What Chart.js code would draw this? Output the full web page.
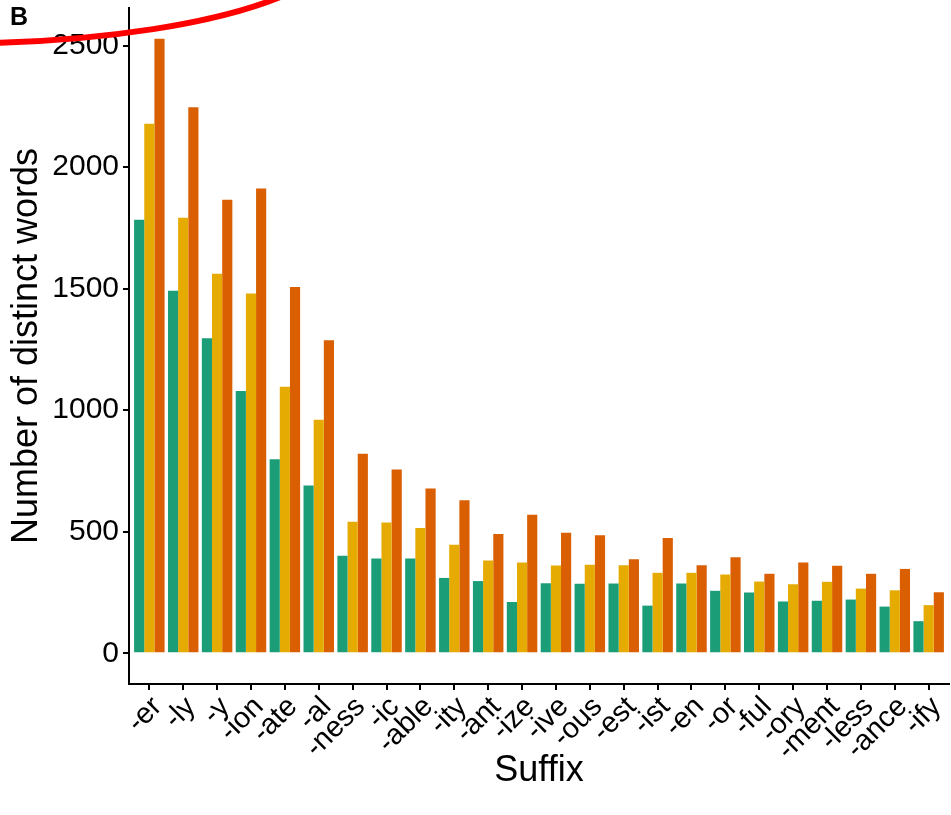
<!DOCTYPE html>
<html>
<head>
<meta charset="utf-8">
<script src="https://cdn.jsdelivr.net/npm/chart.js@4/dist/chart.umd.min.js"></script>
<style>
  html, body { margin: 0; padding: 0; background: #fff; }
  #wrap { position: relative; width: 951px; height: 815px; }
  #panel-tag {
    position: absolute; left: 10px; top: 2px;
    font: bold 25px "Liberation Sans", Arial, sans-serif; color: #000;
  }
</style>
</head>
<body>
<div id="wrap">
  <canvas id="chart" width="951" height="815"></canvas>
  <div id="panel-tag">B</div>
</div>
<script>
// Suffixes on the x axis, in plotted order
const suffixes = ['-er', '-ly', '-y', '-ion', '-ate', '-al', '-ness', '-ic', '-able', '-ity', '-ant', '-ize',
                  '-ive', '-ous', '-est', '-ist', '-en', '-or', '-ful', '-ory', '-ment', '-less', '-ance', '-ify'];

// Number of distinct words per suffix, one array per group
const groupA = [1783, 1491, 1296, 1079, 798, 690, 401, 390, 390, 310, 297, 211,
                288, 286, 287, 196, 287, 257, 250, 213, 216, 221, 192, 132];
const groupB = [2178, 1792, 1561, 1480, 1096, 961, 541, 538, 515, 446, 382, 373,
                361, 364, 362, 331, 331, 324, 295, 284, 294, 266, 259, 198];
const groupC = [2528, 2246, 1866, 1912, 1507, 1288, 821, 756, 678, 629, 491, 570,
                496, 486, 387, 474, 362, 395, 327, 373, 360, 327, 347, 251];

// Y axis tick values
const yTicks = [0, 500, 1000, 1500, 2000, 2500];

const FONT = '"Liberation Sans", Arial, Helvetica, sans-serif';
const toPoints = vals => vals.map((v, i) => ({ x: i, y: v }));

// 5% expansion around the data range on the value axis
const yMaxData = Math.max(...groupA, ...groupB, ...groupC);
const yPad = yMaxData * 0.05;

// Red hand-drawn stroke across the top-left corner
const markStroke = {
  id: 'markStroke',
  afterDraw(chart) {
    const ctx = chart.ctx;
    ctx.save();
    ctx.strokeStyle = '#ff0000';
    ctx.lineWidth = 6;
    ctx.lineCap = 'round';
    ctx.beginPath();
    ctx.moveTo(-5, 43);
    ctx.bezierCurveTo(100, 40, 215, 25, 285, -5);
    ctx.stroke();
    ctx.restore();
  }
};

// Keep the plot panel flush with the layout box (no extra room for edge labels)
const noEdgePadding = s => { s.paddingTop = 0; s.paddingBottom = 0; s.paddingLeft = 0; s.paddingRight = 0; };

new Chart(document.getElementById('chart'), {
  type: 'bar',
  data: {
    datasets: [
      { label: 'A', data: toPoints(groupA), backgroundColor: '#1b9e77' },
      { label: 'B', data: toPoints(groupB), backgroundColor: '#e6ab02' },
      { label: 'C', data: toPoints(groupC), backgroundColor: '#d95f02' }
    ]
  },
  options: {
    responsive: false,
    animation: false,
    layout: { padding: { top: 8, right: 2, left: 0, bottom: 0 } },
    plugins: { legend: { display: false }, tooltip: { enabled: false } },
    datasets: { bar: { categoryPercentage: 0.9, barPercentage: 1.0, borderWidth: 0 } },
    scales: {
      x: {
        type: 'linear',
        min: -0.6,
        max: suffixes.length - 1 + 0.6,
        offset: false,
        grid: { offset: false, drawOnChartArea: false, drawTicks: true, tickLength: 6, color: '#000', lineWidth: 2 },
        border: { color: '#000', width: 2 },
        afterBuildTicks: s => { s.ticks = suffixes.map((_, i) => ({ value: i })); },
        afterFit: s => { s.height = 131; noEdgePadding(s); },
        ticks: {
          autoSkip: false, minRotation: 45, maxRotation: 45, padding: 0, labelOffset: 8,
          color: '#000', font: { family: FONT, size: 29 },
          callback: v => suffixes[v]
        },
        title: {
          display: true, text: 'Suffix', color: '#000',
          font: { family: FONT, size: 36 }, padding: { top: 0, bottom: 22 }
        }
      },
      y: {
        min: -yPad,
        max: yMaxData + yPad,
        grid: { drawOnChartArea: false, drawTicks: true, tickLength: 6, color: '#000', lineWidth: 2 },
        border: { color: '#000', width: 2 },
        afterBuildTicks: s => { s.ticks = yTicks.map(v => ({ value: v })); },
        afterFit: s => { s.width = 129; noEdgePadding(s); },
        ticks: {
          padding: 4, color: '#000', font: { family: FONT, size: 30 },
          callback: v => String(v)
        },
        title: {
          display: true, text: 'Number of distinct words', color: '#000',
          font: { family: FONT, size: 36 }, padding: { top: 5, bottom: 0 }
        }
      }
    }
  },
  plugins: [markStroke]
});
</script>
</body>
</html>
